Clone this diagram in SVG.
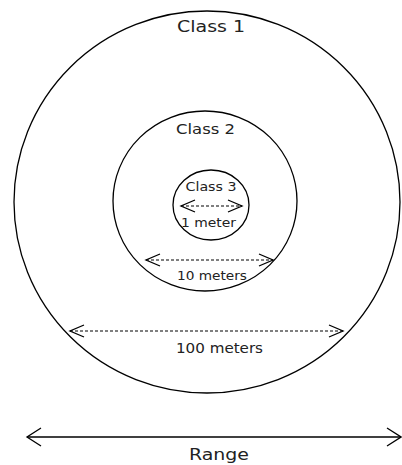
<svg xmlns="http://www.w3.org/2000/svg" width="402" height="465" viewBox="0 0 402 465">
  <style>
    .ring { fill: none; stroke: #000; stroke-width: 1.3; }
    .lbl { font-family: "DejaVu Sans", "Liberation Sans", sans-serif; fill: #222; text-anchor: middle; }
    .dot { fill: none; stroke: #000; stroke-width: 1.2; stroke-dasharray: 3 2; }
    .solid { fill: none; stroke: #000; stroke-width: 1.3; }
  </style>
  <defs>
    <marker id="chev" viewBox="-16 -8 18 16" refX="0" refY="0" markerWidth="18" markerHeight="16" markerUnits="userSpaceOnUse" orient="auto-start-reverse">
      <path d="M-14,-6 L0,0 L-14,6" fill="none" stroke="#000" stroke-width="1.3"/>
    </marker>
    <marker id="chevBig" viewBox="-16 -11 18 22" refX="0" refY="0" markerWidth="18" markerHeight="22" markerUnits="userSpaceOnUse" orient="auto-start-reverse">
      <path d="M-14,-9 L0,0 L-14,9" fill="none" stroke="#000" stroke-width="1.3"/>
    </marker>
  </defs>
  <rect width="402" height="465" fill="#fff"/>

  <g id="class1">
    <ellipse class="ring" cx="207" cy="202" rx="193" ry="191"/>
    <text class="lbl" x="211" y="32" font-size="16" textLength="68" lengthAdjust="spacingAndGlyphs">Class 1</text>
  </g>
  <g id="class2">
    <ellipse class="ring" cx="205" cy="201" rx="92" ry="90"/>
    <text class="lbl" x="205.5" y="134" font-size="14" textLength="59" lengthAdjust="spacingAndGlyphs">Class 2</text>
  </g>
  <g id="class3">
    <ellipse class="ring" cx="211" cy="205" rx="38" ry="35"/>
    <text class="lbl" x="211" y="191" font-size="12" textLength="51" lengthAdjust="spacingAndGlyphs">Class 3</text>
  </g>

  <g id="connectors">
    <line class="dot" x1="181" y1="206" x2="242" y2="206" marker-start="url(#chev)" marker-end="url(#chev)"/>
    <line class="dot" x1="146" y1="260" x2="273" y2="260" marker-start="url(#chev)" marker-end="url(#chev)"/>
    <line class="dot" x1="70" y1="331" x2="343" y2="331" marker-start="url(#chev)" marker-end="url(#chev)"/>
    <line class="solid" x1="27" y1="437" x2="401" y2="437" marker-start="url(#chevBig)" marker-end="url(#chevBig)"/>
  </g>

  <g id="labels">
    <text class="lbl" x="208.5" y="227" font-size="12" textLength="55" lengthAdjust="spacingAndGlyphs">1 meter</text>
    <text class="lbl" x="212" y="280" font-size="12.5" textLength="70" lengthAdjust="spacingAndGlyphs">10 meters</text>
    <text class="lbl" x="219.5" y="353" font-size="14" textLength="87" lengthAdjust="spacingAndGlyphs">100 meters</text>
    <text class="lbl" x="219" y="460" font-size="16" textLength="60" lengthAdjust="spacingAndGlyphs">Range</text>
  </g>
</svg>
